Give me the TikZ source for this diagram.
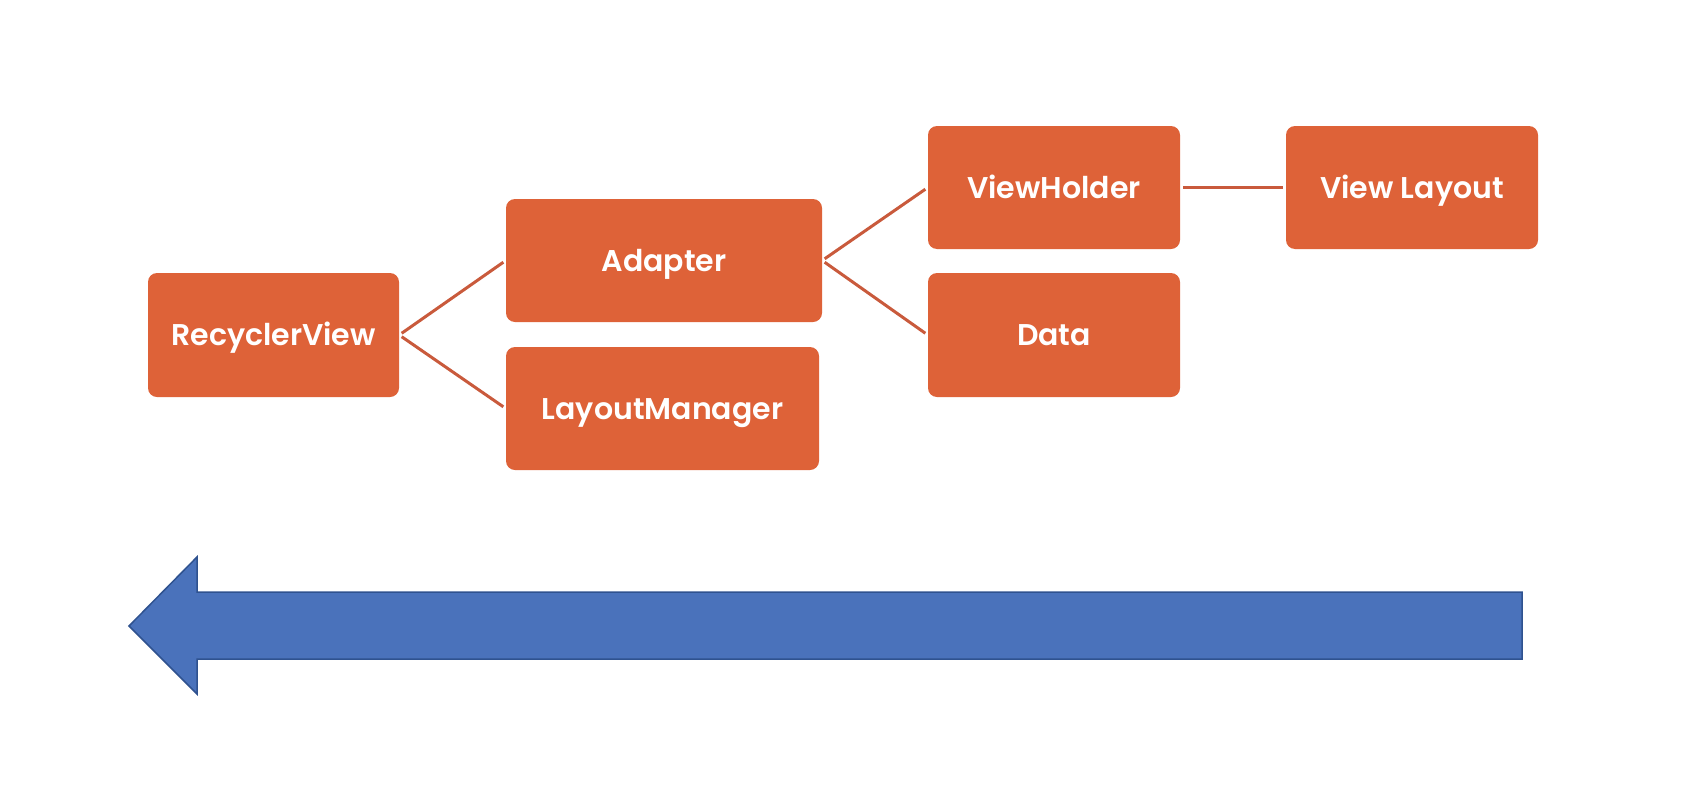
\documentclass[tikz,border=0pt]{standalone}
\usepackage{fontspec}
\setmainfont{Poppins}
\newfontfamily\boxfont{Poppins SemiBold}
\definecolor{boxorange}{HTML}{DE6238}
\definecolor{linkorange}{HTML}{C95A3C}
\definecolor{arrowblue}{HTML}{4A72BB}
\definecolor{arrowedge}{HTML}{2F528F}
\tikzset{
  itembox/.style={fill=boxorange, draw=none, rounded corners=9pt, text=white,
    font=\boxfont\fontsize{30}{32}\selectfont, inner sep=0pt, anchor=center,
    text height=21pt, text depth=0pt},
  link/.style={draw=linkorange, line width=3pt, shorten <=3pt, shorten >=3pt},
}
\begin{document}
\begin{tikzpicture}[x=1pt,y=-1pt]
\useasboundingbox (0,0) rectangle (1682,790);
\node[itembox, minimum width=251pt, minimum height=124pt] (rv) at (273.5,335) {RecyclerView};
\node[itembox, minimum width=316pt, minimum height=123pt] (ad) at (664,260.5) {Adapter};
\node[itembox, minimum width=313pt, minimum height=123pt] (lm) at (662.5,408.5) {LayoutManager};
\node[itembox, minimum width=252pt, minimum height=123pt] (vh) at (1054,187.5) {ViewHolder};
\node[itembox, minimum width=252pt, minimum height=124pt] (da) at (1054,335) {Data};
\node[itembox, minimum width=252pt, minimum height=123pt] (vl) at (1412,187.5) {View Layout};
\draw[link] (rv.east) -- (ad.west);
\draw[link] (rv.east) -- (lm.west);
\draw[link] (ad.east) -- (vh.west);
\draw[link] (ad.east) -- (da.west);
\draw[link] (vh.east) -- (vl.west);
\draw[fill=arrowblue, draw=arrowedge, line width=1.5pt, line join=miter]
  (129,626) -- (197,557) -- (197,592) -- (1522,592) -- (1522,659) -- (197,659) -- (197,694) -- cycle;
\end{tikzpicture}
\end{document}
